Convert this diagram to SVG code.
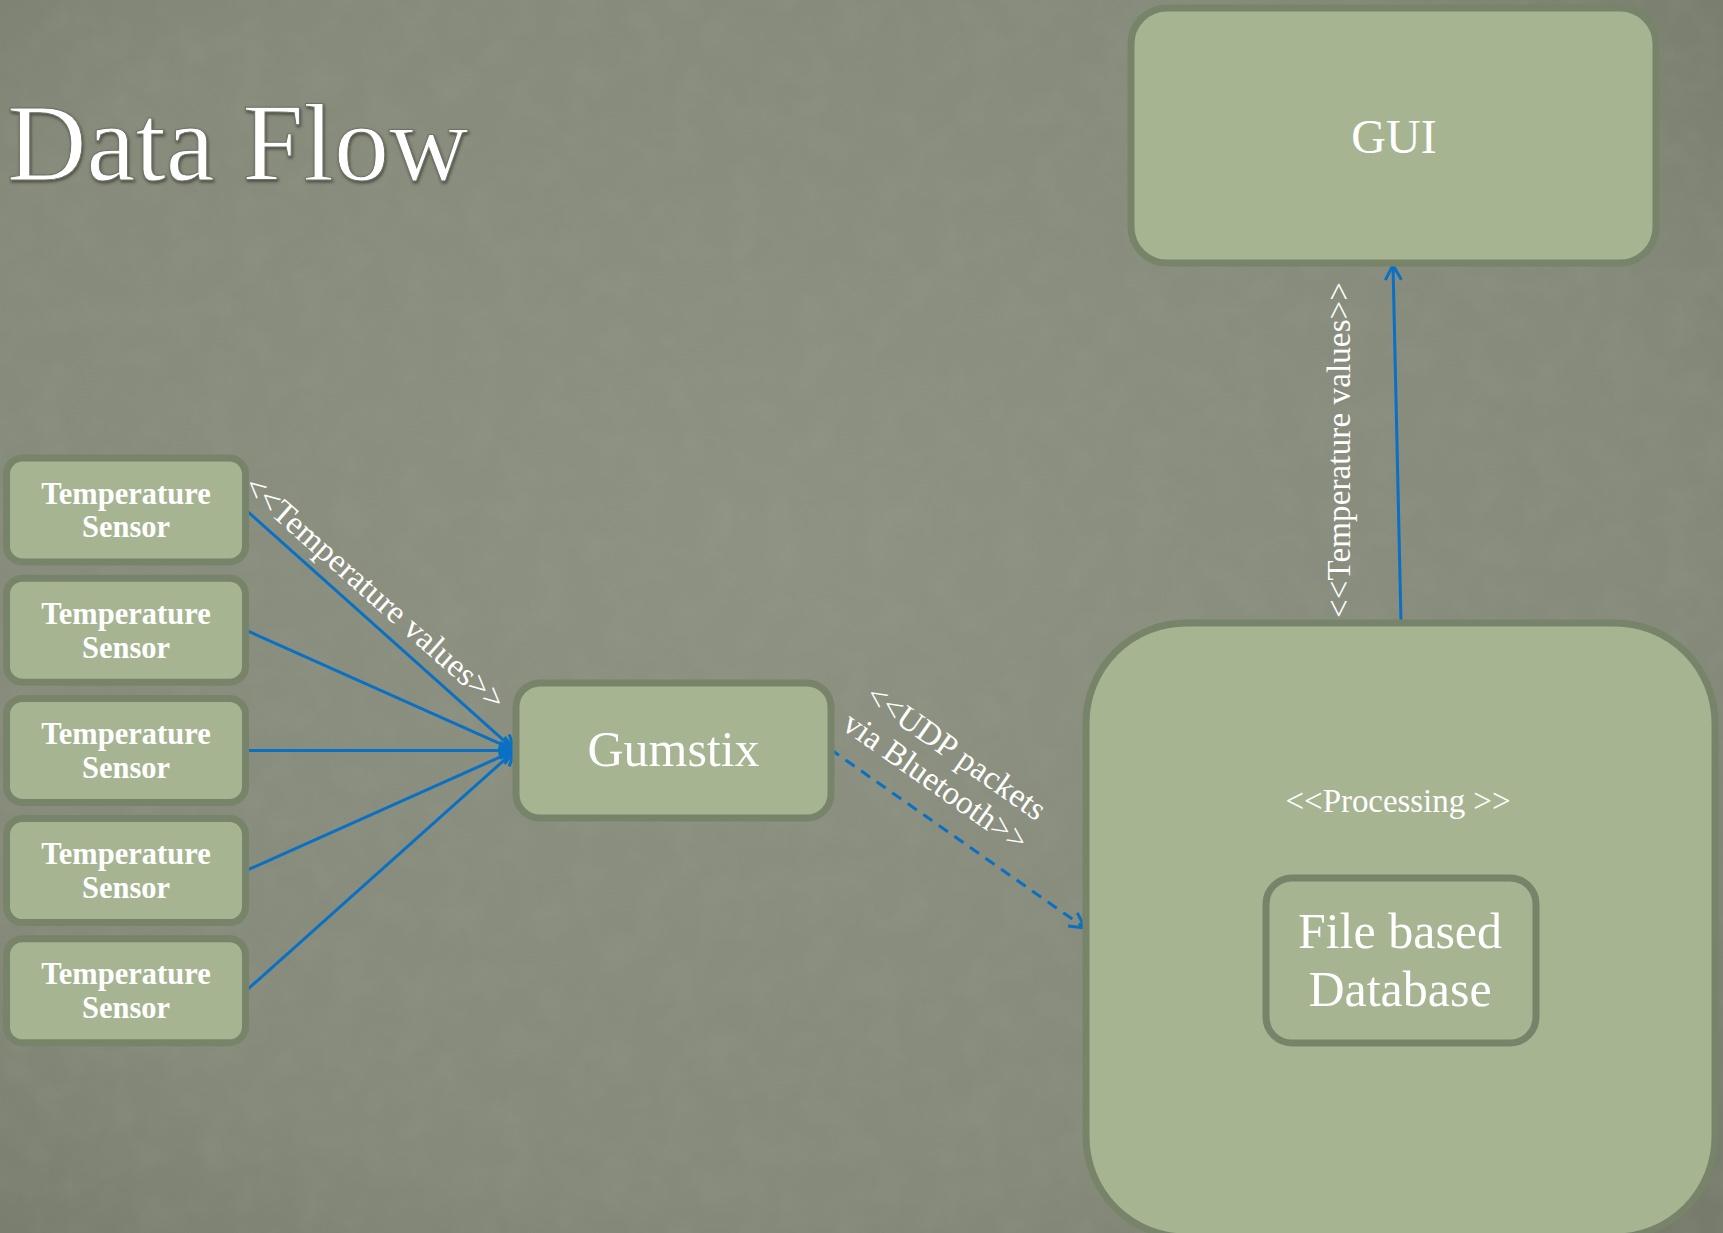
<svg xmlns="http://www.w3.org/2000/svg" width="1723" height="1233" viewBox="0 0 1723 1233">
<style>
.box{fill:#a6b492;stroke:#78846a;stroke-width:7}
.sen{font-family:"Liberation Serif",serif;font-weight:bold;font-size:30.5px;fill:#ffffff;text-anchor:middle}
.big{font-family:"Liberation Serif",serif;fill:#ffffff;text-anchor:middle}
.lbl{font-family:"Liberation Serif",serif;font-size:33px;fill:#ffffff;text-anchor:middle}
.con{stroke:#0a70c4;stroke-width:3;fill:none}
</style>
<defs>
<radialGradient id="bg" cx="0.45" cy="0.45" r="0.75">
<stop offset="0" stop-color="#8d9282"/>
<stop offset="0.7" stop-color="#858a7a"/>
<stop offset="1" stop-color="#767b6b"/>
</radialGradient>
<filter id="noise" x="0" y="0" width="100%" height="100%">
<feTurbulence type="fractalNoise" baseFrequency="0.03" numOctaves="3" seed="4"/>
<feColorMatrix type="matrix" values="0 0 0 0 0.35  0 0 0 0 0.37  0 0 0 0 0.32  0 0 0 0.5 -0.18"/>
</filter>
<filter id="emb" x="-5%" y="-10%" width="110%" height="130%">
<feDropShadow dx="1" dy="2" stdDeviation="1.5" flood-color="#3c3f35" flood-opacity="0.8"/>
</filter>
<marker id="ah" viewBox="0 0 20 20" refX="18" refY="10" markerWidth="20" markerHeight="20" markerUnits="userSpaceOnUse" orient="auto">
<path d="M3,2 L18,10 L3,18" fill="none" stroke="#0a70c4" stroke-width="3"/>
</marker>
</defs>
<rect width="1723" height="1233" fill="url(#bg)"/>
<rect width="1723" height="1233" filter="url(#noise)" opacity="0.6"/>

<text x="7" y="180" font-family="'Liberation Serif',serif" font-size="110" fill="#ffffff" stroke="#6d7164" stroke-width="1" filter="url(#emb)">Data Flow</text>

<g id="connectors">
<line class="con" x1="246" y1="510" x2="515" y2="750.4" marker-end="url(#ah)"/>
<line class="con" x1="246" y1="630.2" x2="515" y2="750.4" marker-end="url(#ah)"/>
<line class="con" x1="246" y1="750.4" x2="515" y2="750.4" marker-end="url(#ah)"/>
<line class="con" x1="246" y1="870.6" x2="515" y2="750.4" marker-end="url(#ah)"/>
<line class="con" x1="246" y1="990.8" x2="515" y2="750.4" marker-end="url(#ah)"/>
<line class="con" x1="830" y1="749" x2="1085" y2="928" stroke-dasharray="11 8" marker-end="url(#ah)"/>
<line class="con" x1="1401" y1="622" x2="1393" y2="265" marker-end="url(#ah)"/>
<text class="lbl" transform="translate(367.5,601) rotate(41.5)" textLength="336">&lt;&lt;Temperature values&gt;&gt;</text>
<text class="lbl" transform="translate(950,761) rotate(35)" textLength="211">&lt;&lt;UDP packets</text>
<text class="lbl" transform="translate(929.5,790.5) rotate(35)" textLength="217">via Bluetooth&gt;&gt;</text>
<text class="lbl" transform="translate(1350,450) rotate(-90)" textLength="336">&lt;&lt;Temperature values&gt;&gt;</text>
</g>

<g id="sensor1">
<rect class="box" x="6.5" y="458" width="239" height="104" rx="16"/>
<text class="sen" x="126" y="503.6">Temperature</text>
<text class="sen" x="126" y="537.3">Sensor</text>
</g>
<g id="sensor2">
<rect class="box" x="6.5" y="578.2" width="239" height="104" rx="16"/>
<text class="sen" x="126" y="623.8">Temperature</text>
<text class="sen" x="126" y="657.5">Sensor</text>
</g>
<g id="sensor3">
<rect class="box" x="6.5" y="698.4" width="239" height="104" rx="16"/>
<text class="sen" x="126" y="744">Temperature</text>
<text class="sen" x="126" y="777.7">Sensor</text>
</g>
<g id="sensor4">
<rect class="box" x="6.5" y="818.6" width="239" height="104" rx="16"/>
<text class="sen" x="126" y="864.2">Temperature</text>
<text class="sen" x="126" y="897.9">Sensor</text>
</g>
<g id="sensor5">
<rect class="box" x="6.5" y="938.8" width="239" height="104" rx="16"/>
<text class="sen" x="126" y="984.4">Temperature</text>
<text class="sen" x="126" y="1018.1">Sensor</text>
</g>

<g id="gumstix">
<rect class="box" x="516" y="683" width="315" height="135" rx="24"/>
<text class="big" x="673.5" y="766" font-size="50">Gumstix</text>
</g>

<g id="gui">
<rect class="box" x="1131" y="8" width="525" height="255" rx="36"/>
<text class="big" x="1394" y="153" font-size="48">GUI</text>
</g>

<g id="processing">
<rect class="box" x="1086" y="623" width="629" height="614" rx="100"/>
<text class="lbl" x="1398" y="812" textLength="225">&lt;&lt;Processing &gt;&gt;</text>
</g>

<g id="database">
<rect class="box" x="1266" y="878" width="270" height="165" rx="26"/>
<text class="big" x="1400" y="948" font-size="50">File based</text>
<text class="big" x="1400" y="1006" font-size="50">Database</text>
</g>
</svg>
